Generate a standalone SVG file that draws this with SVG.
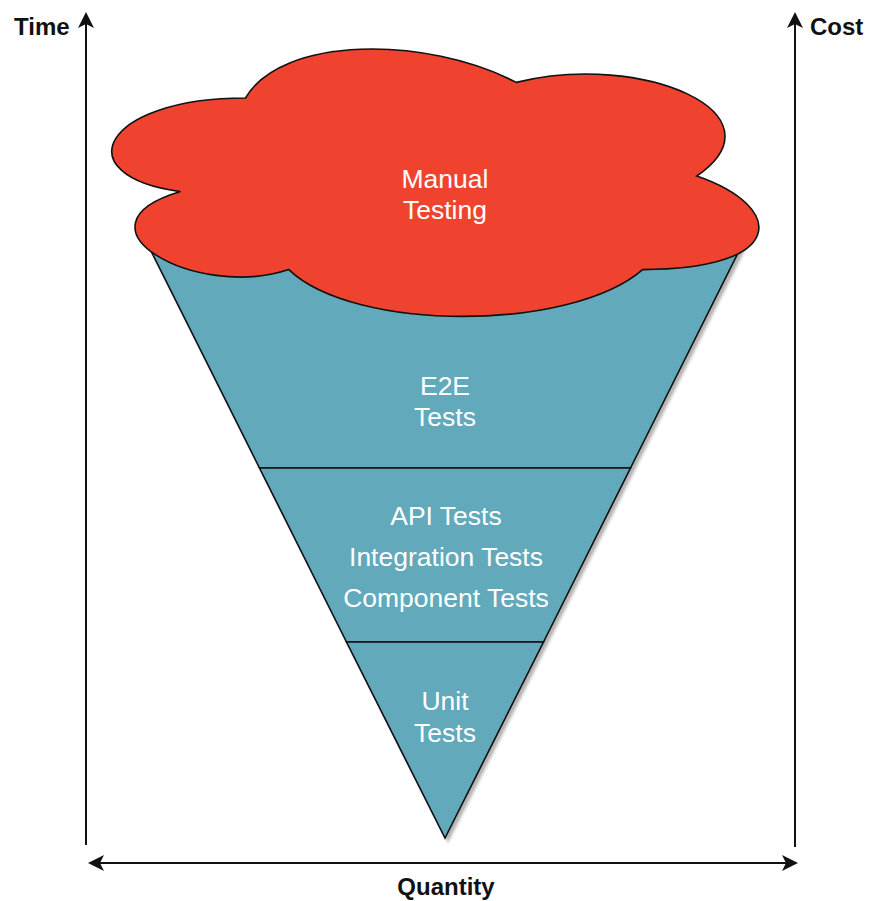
<svg xmlns="http://www.w3.org/2000/svg" width="871" height="901" viewBox="0 0 871 901">
  <style>
    .layer { fill: #62A9BB; stroke: #111; stroke-width: 1.6; stroke-linejoin: miter; }
    .cloud { fill: #EF432F; stroke: #111; stroke-width: 1.6; }
    .lbl { font-family: "Liberation Sans", Arial, Helvetica, sans-serif; font-size: 26.5px; fill: #ffffff; text-anchor: middle; }
    .axis-lbl { font-family: "Liberation Sans", Arial, Helvetica, sans-serif; font-size: 24px; font-weight: bold; fill: #111; }
    .axis { stroke: #111; stroke-width: 2; fill: none; }
  </style>
  <defs>
    <filter id="shadow" x="-10%" y="-10%" width="130%" height="130%">
      <feDropShadow dx="3" dy="3" stdDeviation="1.6" flood-color="#000" flood-opacity="0.3"/>
    </filter>
    <marker id="arrow" viewBox="0 0 16 16" refX="4" refY="8" markerWidth="16" markerHeight="16" markerUnits="userSpaceOnUse" orient="auto-start-reverse">
      <path d="M0,0 L16,8 L0,16 L4,8 Z" fill="#111"/>
    </marker>
  </defs>
  <rect width="871" height="901" fill="#ffffff"/>

  <g id="connectors">
    <line class="axis" x1="86" y1="845" x2="86" y2="24" marker-end="url(#arrow)"/>
    <line class="axis" x1="795" y1="847" x2="795" y2="24" marker-end="url(#arrow)"/>
    <line class="axis" x1="100" y1="863" x2="786" y2="863" marker-start="url(#arrow)" marker-end="url(#arrow)"/>
  </g>

  <g id="axis-labels">
    <text class="axis-lbl" x="14" y="35">Time</text>
    <text class="axis-lbl" x="810" y="35">Cost</text>
    <text class="axis-lbl" x="446" y="895" text-anchor="middle">Quantity</text>
  </g>

  <g id="funnel" filter="url(#shadow)">
    <g id="e2e-tests">
      <polygon class="layer" points="148,245 742,245 630.5,468 259.5,468"/>
    </g>
    <g id="api-tests">
      <polygon class="layer" points="259.5,468 630.5,468 543.5,642 346.5,642"/>
    </g>
    <g id="unit-tests">
      <polygon class="layer" points="346.5,642 543.5,642 445,838"/>
    </g>
  </g>

  <g id="manual-testing">
    <path class="cloud" d="M245.5,98 C101.1,98 65,176 180.5,191.6 C65,225.9 195,300.8 288.8,269.6 C353.8,332 570.4,332 642.6,269.6 C787,269.6 787,207.2 696.8,176 C787,113.6 642.6,51.2 516.3,82.4 C426,35.6 281.6,35.6 245.5,98 Z"/>
    <text class="lbl" x="445" y="188">Manual</text>
    <text class="lbl" x="445" y="219">Testing</text>
  </g>

  <g id="funnel-labels">
    <text class="lbl" x="445" y="395">E2E</text>
    <text class="lbl" x="445" y="426">Tests</text>
    <text class="lbl" x="446" y="525">API Tests</text>
    <text class="lbl" x="446" y="566">Integration Tests</text>
    <text class="lbl" x="446" y="607">Component Tests</text>
    <text class="lbl" x="445" y="710">Unit</text>
    <text class="lbl" x="445" y="742">Tests</text>
  </g>
</svg>
